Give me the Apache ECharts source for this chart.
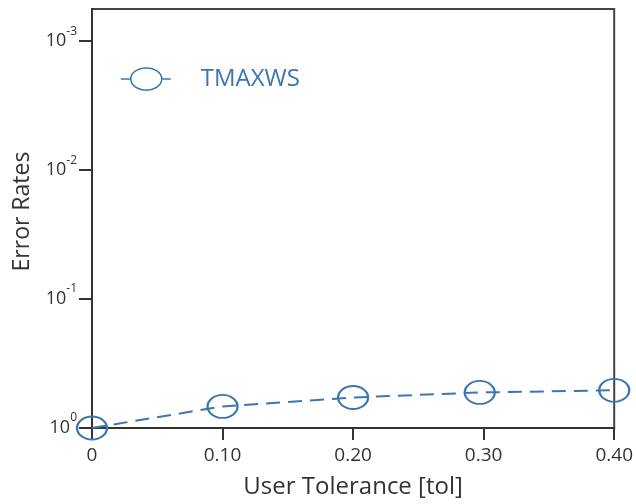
<!DOCTYPE html>
<html>
<head>
<meta charset="utf-8">
<script src="https://cdn.jsdelivr.net/npm/echarts@6/dist/echarts.min.js"></script>
<style>
  html, body { margin: 0; padding: 0; background: #fff; }
  #main { width: 636px; height: 504px; }
</style>
</head>
<body>
<div id="main"></div>
<script>
// 数据
var tolValues = [0, 0.10, 0.20, 0.297, 0.40];
var errorRates = [1.0, 0.68, 0.58, 0.53, 0.51];
var yTickValues = [0.001, 0.01, 0.1, 1];
var xTickLabels = ['0', '0.10', '0.20', '0.30', '0.40'];
var seriesName = 'TMAXWS';

var blue = '#3b76b3';
var axisColor = '#333';
var font = 'Open Sans';

// 10^n 形式的标签
function powLabel (v) {
    var n = Math.round(Math.log10(v));
    if (Math.abs(Math.log10(v) - n) > 1e-6) return '';
    return '{b|10}{s|' + n + '}';
}

// 图例图标：两边短线 + 椭圆
var legendIcon = 'path://M0,11L10,11M41,11L50,11M10,11A15.5,11 0 1,1 41,11A15.5,11 0 1,1 10,11Z';

var myChart = echarts.init(document.getElementById('main'));
var option = {
    animation: false,
    grid: {
        left: 92,
        right: 19,
        top: 9,
        bottom: 74,
        show: true,
        borderColor: '#444',
        borderWidth: 2
    },
    legend: {
        left: 115,
        top: 62,
        itemWidth: 50,
        itemHeight: 22,
        data: [{ name: seriesName, icon: legendIcon }],
        itemStyle: { color: 'rgba(255,255,255,0)', borderColor: blue, borderWidth: 1.5 },
        textStyle: {
            color: blue,
            fontFamily: font,
            fontSize: 24,
            padding: [0, 0, 0, 25]
        }
    },
    xAxis: {
        type: 'value',
        min: 0,
        max: 0.4,
        interval: 0.1,
        name: 'User Tolerance [tol]',
        nameLocation: 'middle',
        nameGap: 47,
        nameTextStyle: { color: axisColor, fontFamily: font, fontSize: 24 },
        axisLine: { lineStyle: { color: axisColor, width: 2 } },
        axisTick: { show: true, length: 12, lineStyle: { color: axisColor, width: 2 } },
        axisLabel: {
            color: axisColor,
            fontFamily: font,
            fontSize: 19,
            margin: 18,
            formatter: function (v) {
                return xTickLabels[Math.round(v * 10)];
            }
        },
        splitLine: { show: false }
    },
    yAxis: {
        type: 'log',
        inverse: true,
        min: Math.pow(10, -3.25),
        max: 1,
        name: 'Error Rates',
        nameLocation: 'middle',
        nameGap: 58,
        nameTextStyle: { color: axisColor, fontFamily: font, fontSize: 23, padding: [0, 0, 0, 14] },
        axisLine: { show: true, lineStyle: { color: axisColor, width: 2 } },
        axisTick: {
            show: true,
            length: 13,
            customValues: yTickValues,
            lineStyle: { color: axisColor, width: 2 }
        },
        axisLabel: {
            margin: 15,
            customValues: yTickValues,
            formatter: powLabel,
            rich: {
                b: { color: axisColor, fontFamily: font, fontSize: 18, lineHeight: 18 },
                s: { color: axisColor, fontFamily: font, fontSize: 12, lineHeight: 12, padding: [0, 0, 20, 0] }
            }
        },
        splitLine: { show: false }
    },
    series: [{
        name: seriesName,
        type: 'line',
        data: tolValues.map(function (x, i) { return [x, errorRates[i]]; }),
        symbol: 'circle',
        symbolSize: [30, 23],
        showAllSymbol: true,
        clip: false,
        itemStyle: { color: 'rgba(255,255,255,0)', borderColor: blue, borderWidth: 2 },
        lineStyle: { color: blue, width: 2, type: [14, 8] }
    }]
};
myChart.setOption(option);
</script>
</body>
</html>
